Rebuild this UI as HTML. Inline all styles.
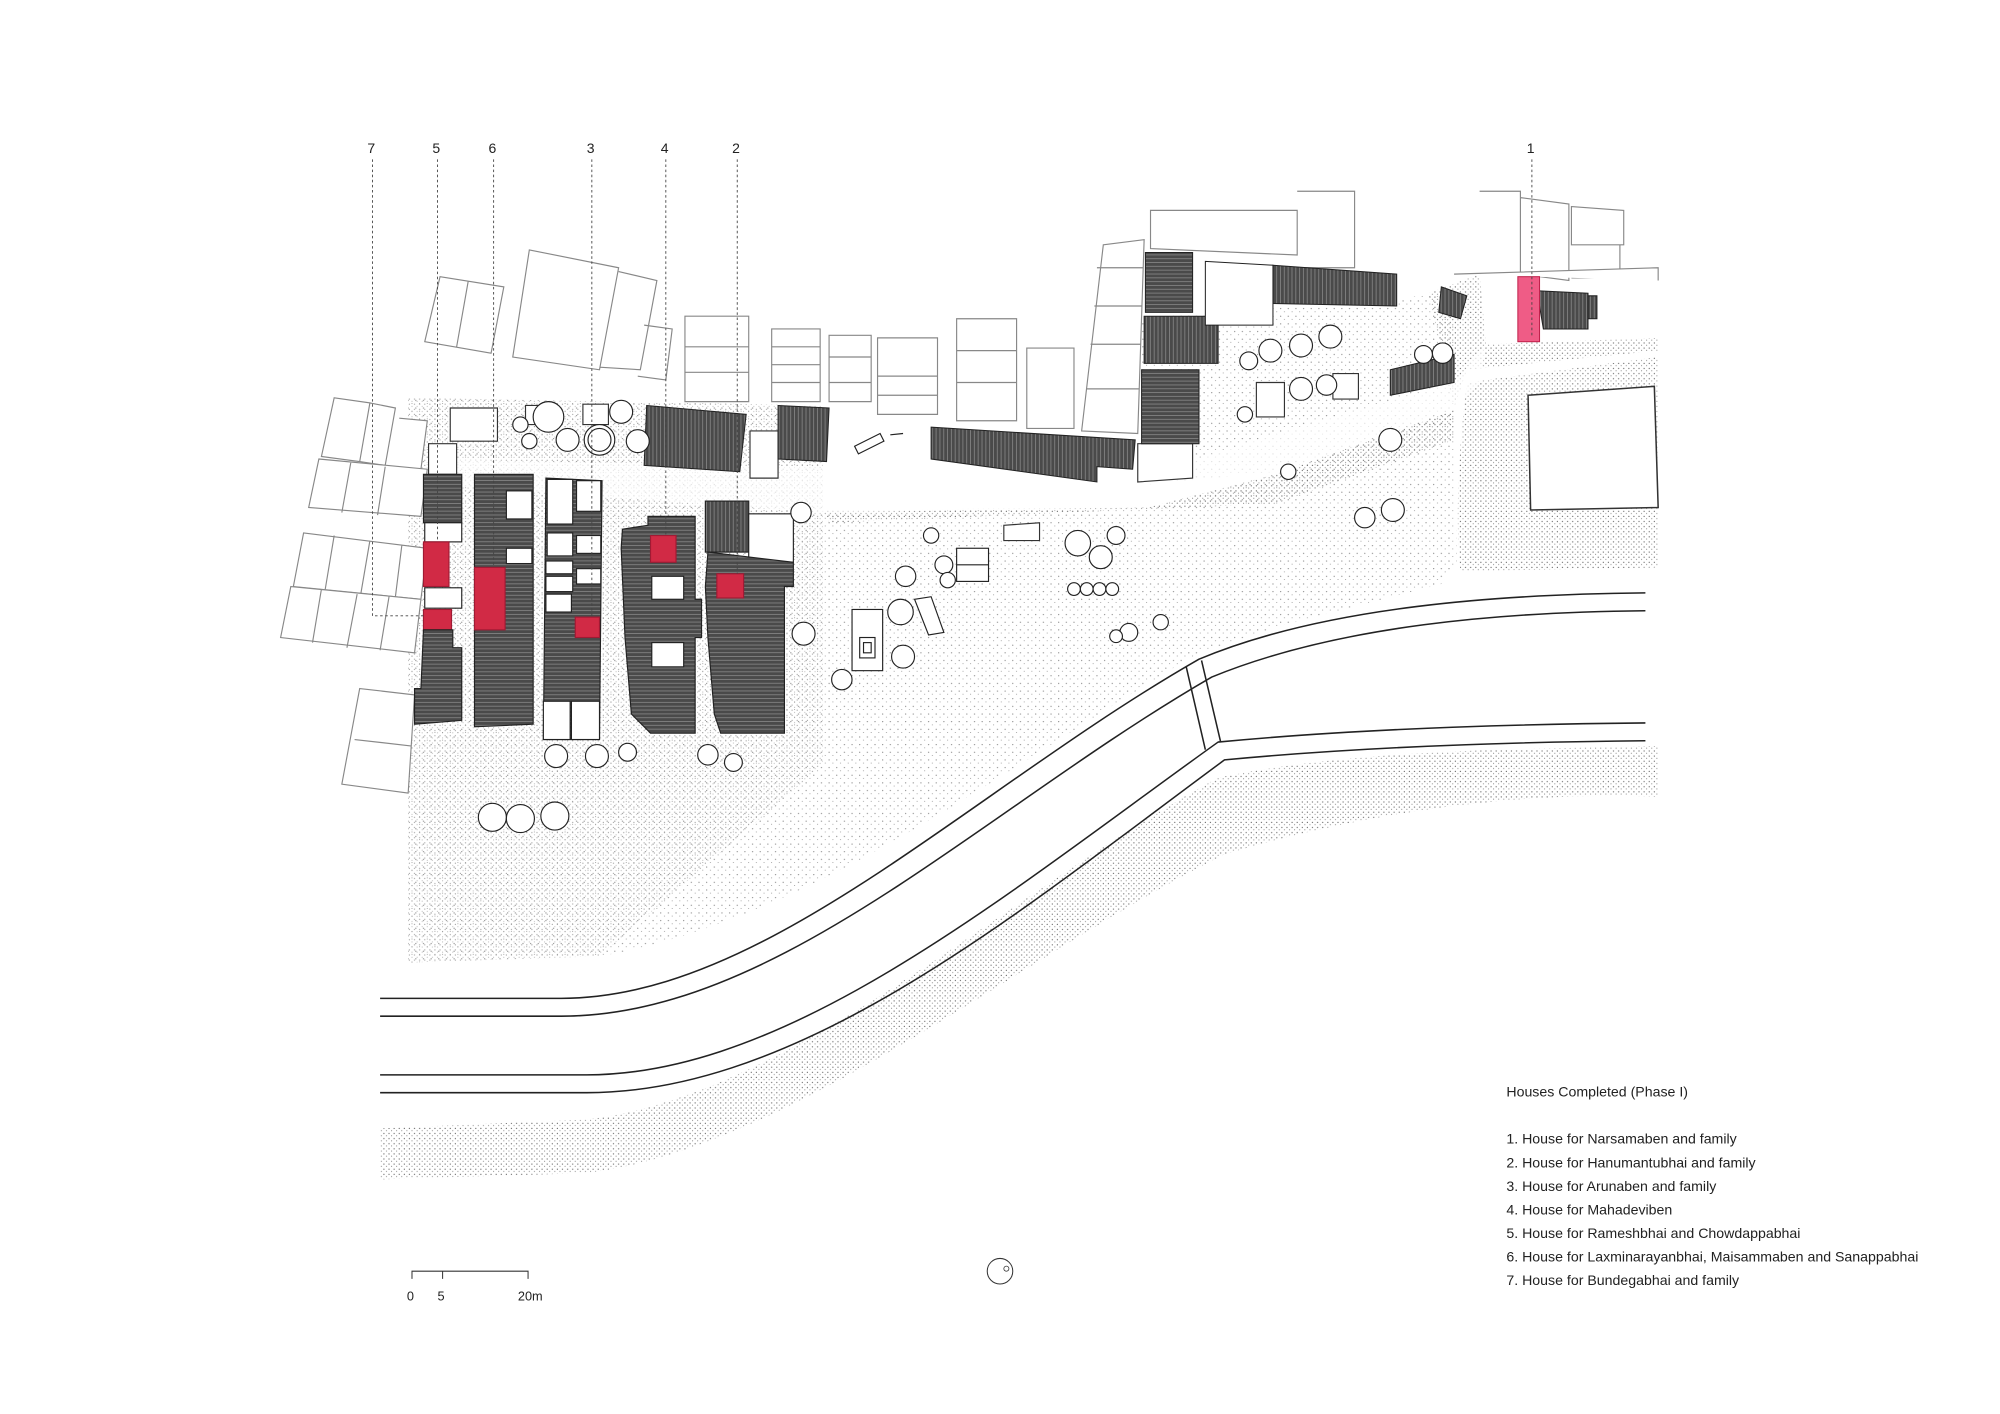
<!DOCTYPE html>
<html><head><meta charset="utf-8"><style>
html,body{margin:0;padding:0;background:#fff;}
svg{display:block;}
text{font-family:"Liberation Sans",sans-serif;fill:#222;}
</style></head><body>
<svg width="2000" height="1414" viewBox="0 0 1568 1109" preserveAspectRatio="none" xmlns="http://www.w3.org/2000/svg">
<defs>
<pattern id="st" width="4" height="4" patternUnits="userSpaceOnUse">
<circle cx="1" cy="1" r="0.5" fill="#333"/><circle cx="3" cy="2.8" r="0.4" fill="#444"/>
</pattern>
<pattern id="st2" width="6" height="6" patternUnits="userSpaceOnUse">
<circle cx="2" cy="2" r="0.45" fill="#444"/><circle cx="5" cy="4.5" r="0.35" fill="#555"/>
</pattern>
<pattern id="hat" width="4" height="3" patternUnits="userSpaceOnUse">
<rect width="4" height="3" fill="#4a4a4a"/><rect y="1.6" width="4" height="0.6" fill="#8a8a8a"/>
</pattern>
<pattern id="hatv" width="3" height="4" patternUnits="userSpaceOnUse">
<rect width="3" height="4" fill="#4a4a4a"/><rect x="1.6" width="0.6" height="4" fill="#8a8a8a"/>
</pattern>
</defs>

<g opacity="0.75">
<path d="M320,312 L645,318 L645,402 L900,398 L1000,372 L1140,322 L1142,440 L1130,458 L1000,492 L940,512 C790,600 640,720 470,750 L320,755 Z" fill="url(#st2)"/>
<path d="M320,312 L645,318 L645,600 L470,750 L320,755 Z" fill="url(#st)" opacity="0.6"/>
<path d="M298,885 L460,878 C620,860 790,700 955,610 C1060,588 1180,588 1300,585 L1300,625 C1180,620 1060,640 960,670 C800,750 620,900 460,920 L298,925 Z" fill="url(#st)"/>
<path d="M1150,300 L1300,280 L1300,445 L1145,448 C1140,400 1145,340 1150,300 Z" fill="url(#st)"/>
<path d="M890,250 L1140,230 L1140,330 L1000,370 L900,380 Z" fill="url(#st2)"/>
<path d="M1120,230 L1160,215 L1165,270 L1300,265 L1300,275 L1150,290 L1140,320 Z" fill="url(#st)"/>
<path d="M645,400 L900,398 L1000,372 L1140,322 L1140,345 L1000,395 L650,410 Z" fill="url(#st)"/>
</g>
<path d="M335,360 L900,372 L1000,340 L1140,300 L1165,270 L1160,300 L1140,320 L1000,372 L900,398 L645,402 L335,380 Z" fill="#fff" opacity="0.7"/>

<g fill="none" stroke="#222" stroke-width="1.2">
<path d="M298,783 L440,783 C600,783 760,620 940,517 C1040,475 1180,466 1290,465"/>
<path d="M298,797 L440,797 C610,797 770,635 950,531 C1050,490 1180,480 1290,479"/>
<path d="M298,843 L460,843 C620,843 790,700 955,582 C1060,572 1180,568 1290,567"/>
<path d="M298,857 L460,857 C630,857 800,714 960,596 C1065,586 1180,582 1290,581"/>
<path d="M930,523 L945,588 M942,518 L957,582"/>
</g>

<g fill="#fff" stroke="#888" stroke-width="0.9">
<path d="M345,217 L395,225 L385,277 L333,268 Z M367,221 L358,272"/>
<path d="M415,196 L485,210 L470,290 L402,280 Z M485,213 L515,220 L502,290 L470,288 M505,255 L527,258 L522,298 L500,295"/>
<path d="M537,248 L587,248 L587,315 L537,315 Z M537,272 H587 M537,292 H587"/>
<path d="M605,258 L643,258 L643,315 L605,315 Z M605,272 H643 M605,286 H643 M605,300 H643"/>
<path d="M650,263 L683,263 L683,315 L650,315 Z M650,280 H683 M650,300 H683"/>
<path d="M688,265 L735,265 L735,325 L688,325 Z M688,295 H735 M688,310 H735"/>
<path d="M750,250 L797,250 L797,330 L750,330 Z M750,275 H797 M750,300 H797"/>
<path d="M805,273 L842,273 L842,336 L805,336 Z"/>
<path d="M865,192 L897,188 L892,340 L848,338 Z M860,210 H896 M858,240 H895 M855,270 H894 M852,305 H893"/>
<path d="M902,165 L1017,165 L1017,200 L902,195 Z M1017,150 L1062,150 L1062,210 L1017,210"/>
<path d="M1160,150 L1192,150 L1192,215 L1160,215 M1192,155 L1230,160 L1230,220 L1192,215 M1232,162 L1273,165 L1273,192 L1232,192 Z M1232,192 L1270,192 L1270,218 L1232,218"/>
<path d="M262,312 L290,316 L282,362 L252,358 Z M290,316 L310,320 L302,365 L282,362 M313,328 L335,330 L330,368 L305,366"/>
<path d="M250,360 L335,368 L330,405 L242,398 Z M275,363 L268,402 M302,366 L296,404"/>
<path d="M238,418 L335,430 L330,470 L230,460 Z M262,420 L255,462 M290,424 L283,465 M315,428 L310,468"/>
<path d="M228,460 L330,470 L325,512 L220,500 Z M252,462 L245,504 M280,466 L272,508 M305,468 L298,510"/>
<path d="M282,540 L325,545 L320,622 L268,615 Z M278,580 L322,585"/>
<path d="M1140,215 L1300,210 L1300,220"/>
<path d="M1198,310 L1297,303 L1300,398 L1200,400 Z" stroke="#333" stroke-width="1.2"/>
<path d="M1045,293 L1065,293 L1065,313 L1045,313 Z M985,300 L1007,300 L1007,327 L985,327 Z M787,412 L815,410 L815,424 L787,424 Z" stroke="#333"/>
<path d="M353,320 L390,320 L390,346 L353,346 Z M336,348 L358,348 L358,372 L336,372 Z M457,317 L477,317 L477,333 L457,333 Z M412,318 L428,318 L428,333 L412,333 Z" stroke="#333"/>
<path d="M588,338 L610,338 L610,375 L588,375 Z M892,348 L935,348 L935,375 L892,378 Z" stroke="#333"/>
</g>

<g stroke="#222" stroke-width="0.8">
<path d="M507,318 L585,325 L580,370 L505,365 Z" fill="url(#hatv)"/>
<path d="M610,318 L650,320 L648,362 L610,360 Z" fill="url(#hatv)"/>
<path d="M730,335 L890,345 L888,368 L860,366 L860,378 L730,360 Z" fill="url(#hatv)"/>
<path d="M898,198 L935,198 L935,245 L898,245 Z" fill="url(#hat)"/>
<path d="M897,248 L955,248 L955,285 L897,285 Z" fill="url(#hatv)"/>
<path d="M895,290 L940,290 L940,348 L895,348 Z" fill="url(#hat)"/>
<path d="M998,208 L1095,215 L1095,240 L998,238 Z" fill="url(#hatv)"/>
<path d="M1090,290 L1140,278 L1140,300 L1090,310 Z" fill="url(#hatv)"/>
<path d="M1130,225 L1150,232 L1145,250 L1128,245 Z M1205,228 L1245,230 L1245,258 L1210,258 Z M1245,232 L1252,232 L1252,250 L1245,250Z" fill="url(#hatv)"/>
<path d="M945,205 L998,208 L998,255 L945,255 Z" fill="#fff"/>
</g>
<rect x="1190" y="217" width="17" height="51" fill="#ef5c86" stroke="#c0204a" stroke-width="0.8"/>

<g stroke="#222" stroke-width="0.9">
<rect x="332" y="372" width="30" height="38" fill="url(#hat)"/>
<rect x="333" y="410" width="29" height="15" fill="#fff"/>
<rect x="332" y="425" width="20" height="35" fill="#d12a45" stroke="#a01a33"/>
<rect x="333" y="461" width="29" height="16" fill="#fff"/>
<rect x="332" y="478" width="22" height="16" fill="#d12a45" stroke="#a01a33"/>
<path d="M332,494 L355,494 L355,508 L362,508 L362,565 L325,568 L325,540 L330,540 Z" fill="url(#hat)"/>

<path d="M372,372 L418,372 L418,568 L372,570 Z" fill="url(#hat)"/>
<rect x="397" y="385" width="20" height="22" fill="#fff"/>
<rect x="397" y="430" width="20" height="12" fill="#fff"/>
<rect x="372" y="445" width="24" height="49" fill="#d12a45" stroke="#a01a33"/>

<path d="M428,375 L472,377 L470,580 L426,580 Z" fill="url(#hat)"/>
<rect x="429" y="376" width="20" height="35" fill="#fff"/>
<rect x="452" y="377" width="19" height="24" fill="#fff"/>
<rect x="429" y="418" width="20" height="18" fill="#fff"/>
<rect x="452" y="420" width="19" height="14" fill="#fff"/>
<rect x="428" y="440" width="21" height="10" fill="#fff"/>
<rect x="428" y="452" width="21" height="12" fill="#fff"/>
<rect x="452" y="446" width="19" height="12" fill="#fff"/>
<rect x="428" y="466" width="20" height="14" fill="#fff"/>
<rect x="451" y="484" width="19" height="16" fill="#d12a45" stroke="#a01a33"/>
<rect x="426" y="550" width="21" height="30" fill="#fff"/>
<rect x="448" y="550" width="22" height="30" fill="#fff"/>

<path d="M488,415 L508,412 L508,405 L545,405 L545,470 L550,470 L550,500 L545,500 L545,575 L510,575 L495,560 L490,500 L487,430 Z" fill="url(#hat)"/>
<rect x="510" y="420" width="20" height="21" fill="#d12a45" stroke="#a01a33"/>
<rect x="511" y="452" width="25" height="18" fill="#fff"/>
<rect x="511" y="504" width="25" height="19" fill="#fff"/>

<rect x="553" y="393" width="34" height="40" fill="url(#hatv)"/>
<rect x="587" y="403" width="35" height="38" fill="#fff"/>
<path d="M555,433 L622,441 L622,460 L615,460 L615,575 L565,575 L560,560 L555,500 L553,460 Z" fill="url(#hat)"/>
<rect x="562" y="450" width="21" height="19" fill="#d12a45" stroke="#a01a33"/>
</g>

<g fill="#fff" stroke="#222" stroke-width="0.9">
<circle cx="430" cy="327" r="12"/><circle cx="487" cy="323" r="9"/><circle cx="445" cy="345" r="9"/><circle cx="408" cy="333" r="6"/>
<circle cx="470" cy="345" r="12"/><circle cx="470" cy="345" r="9"/><circle cx="500" cy="346" r="9"/><circle cx="415" cy="346" r="6"/>
<circle cx="386" cy="641" r="11"/><circle cx="408" cy="642" r="11"/><circle cx="435" cy="640" r="11"/>
<circle cx="436" cy="593" r="9"/><circle cx="468" cy="593" r="9"/><circle cx="492" cy="590" r="7"/><circle cx="555" cy="592" r="8"/><circle cx="575" cy="598" r="7"/>
<circle cx="628" cy="402" r="8"/><circle cx="630" cy="497" r="9"/><circle cx="660" cy="533" r="8"/><circle cx="708" cy="515" r="9"/>
<circle cx="706" cy="480" r="10"/><circle cx="710" cy="452" r="8"/><circle cx="740" cy="443" r="7"/><circle cx="743" cy="455" r="6"/>
<circle cx="730" cy="420" r="6"/><circle cx="845" cy="426" r="10"/><circle cx="863" cy="437" r="9"/><circle cx="875" cy="420" r="7"/>
<circle cx="842" cy="462" r="5"/><circle cx="852" cy="462" r="5"/><circle cx="862" cy="462" r="5"/><circle cx="872" cy="462" r="5"/>
<circle cx="885" cy="496" r="7"/><circle cx="875" cy="499" r="5"/><circle cx="910" cy="488" r="6"/>
<circle cx="996" cy="275" r="9"/><circle cx="1020" cy="271" r="9"/><circle cx="1043" cy="264" r="9"/><circle cx="1020" cy="305" r="9"/>
<circle cx="979" cy="283" r="7"/><circle cx="1040" cy="302" r="8"/><circle cx="976" cy="325" r="6"/>
<circle cx="1090" cy="345" r="9"/><circle cx="1070" cy="406" r="8"/><circle cx="1092" cy="400" r="9"/><circle cx="1010" cy="370" r="6"/>
<circle cx="1131" cy="277" r="8"/><circle cx="1116" cy="278" r="7"/>
</g>
<g fill="none" stroke="#222" stroke-width="0.9">
<rect x="668" y="478" width="24" height="48" fill="#fff"/><rect x="674" y="500" width="12" height="16"/><rect x="677" y="504" width="6" height="8"/>
<rect x="750" y="430" width="25" height="26" fill="#fff"/><path d="M750,443 H775"/>
<path d="M717,470 L730,468 L740,496 L728,498 Z" fill="#fff"/>
<path d="M670,350 L690,340 L693,346 L673,356 Z M698,341 L708,340"/>
</g>

<g stroke="#444" stroke-width="0.7" stroke-dasharray="2,2" fill="none">
<path d="M292,125 V483 H332"/><path d="M343,125 V425"/><path d="M387,125 V445"/><path d="M464,125 V484"/><path d="M522,125 V420"/><path d="M578,125 V450"/><path d="M1201,125 V265"/>
</g>
<g font-size="11">
<text x="288" y="120">7</text><text x="339" y="120">5</text><text x="383" y="120">6</text><text x="460" y="120">3</text><text x="518" y="120">4</text><text x="574" y="120">2</text><text x="1197" y="120">1</text>
</g>

<path d="M323,1003 V997 H414 V1003 M347,997 V1003" fill="none" stroke="#333" stroke-width="0.8"/>
<g font-size="10"><text x="319" y="1020">0</text><text x="343" y="1020">5</text><text x="406" y="1020">20m</text></g>
<circle cx="784" cy="997" r="10" fill="none" stroke="#333" stroke-width="0.8"/><circle cx="789" cy="995" r="2" fill="none" stroke="#333" stroke-width="0.6"/>

<g font-size="11.1">
<text x="1181" y="860">Houses Completed (Phase I)</text>
<text x="1181" y="897">1. House for Narsamaben and family</text>
<text x="1181" y="915.5">2. House for Hanumantubhai and family</text>
<text x="1181" y="934">3. House for Arunaben and family</text>
<text x="1181" y="952.5">4. House for Mahadeviben</text>
<text x="1181" y="971">5. House for Rameshbhai and Chowdappabhai</text>
<text x="1181" y="989.5">6. House for Laxminarayanbhai, Maisammaben and Sanappabhai</text>
<text x="1181" y="1008">7. House for Bundegabhai and family</text>
</g>
</svg>
</body></html>
